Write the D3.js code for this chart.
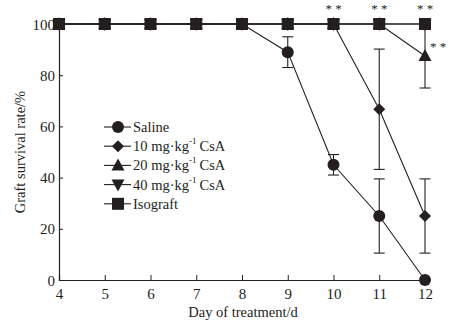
<!DOCTYPE html>
<html><head><meta charset="utf-8">
<script src="https://cdn.jsdelivr.net/npm/d3@7"></script>
<style>body{margin:0;background:#fff}svg{display:block}text{font-family:"Liberation Serif","Times New Roman",serif;fill:#231f20}</style>
</head><body><svg id="c" width="450" height="325"></svg>
<script>
const days = [4,5,6,7,8,9,10,11,12];
const salineVals = [100,100,100,100,100,89,45,25,0];
const salineErr  = [0,0,0,0,0,6,4,14.5,0];
const mg10Vals = [100,100,100,100,100,100,100,66.7,25];
const mg10Err  = [0,0,0,0,0,0,0,23.5,14.5];
const mg20Vals = [100,100,100,100,100,100,100,100,87.5];
const mg20Err  = [0,0,0,0,0,0,0,0,12.5];
const mg40Vals = [100,100,100,100,100,100,100,100,100];
const isoVals  = [100,100,100,100,100,100,100,100,100];
const seriesNames = ["Saline","10 mg·kg","20 mg·kg","40 mg·kg","Isograft"];
const yTicks = [0,20,40,60,80,100];
const sigDays = [10,11,12];

const col = "#231f20";
const svg = d3.select("#c");
const x = d3.scaleLinear().domain([4,12]).range([59,425]);
const y = d3.scaleLinear().domain([0,100]).range([280,24]);

// axes
const xa = svg.append("g").attr("transform","translate(0,280)")
  .call(d3.axisBottom(x).tickValues(days).tickSize(-5).tickPadding(8).tickFormat(d3.format("d")));
const ya = svg.append("g").attr("transform","translate(59,0)")
  .call(d3.axisLeft(y).tickValues(yTicks).tickSize(-4).tickPadding(4));
[xa,ya].forEach(a=>{
  a.select(".domain").attr("stroke",col).attr("stroke-width",1.2);
  a.selectAll(".tick line").attr("stroke",col).attr("stroke-width",1);
  a.selectAll(".tick text").attr("font-size",15).attr("fill",col).style("font-family","Liberation Serif");
});
ya.selectAll(".tick text").attr("dy","0.34em");

svg.append("text").attr("x",243).attr("y",317).attr("text-anchor","middle").attr("font-size",14.5).text("Day of treatment/d");
svg.append("text").attr("transform","translate(25,152) rotate(-90)").attr("text-anchor","middle").attr("font-size",14.5).text("Graft survival rate/%");

const series = [
  {vals:salineVals, err:salineErr, shape:"circle"},
  {vals:mg10Vals, err:mg10Err, shape:"diamond"},
  {vals:mg20Vals, err:mg20Err, shape:"tri"},
  {vals:mg40Vals, err:null, shape:"itri"},
  {vals:isoVals, err:null, shape:"square"}
];

function marker(g, shape, cx, cy){
  if(shape==="circle") g.append("circle").attr("cx",cx).attr("cy",cy).attr("r",6).attr("fill",col);
  else if(shape==="square") g.append("rect").attr("x",cx-6).attr("y",cy-6).attr("width",12).attr("height",12).attr("fill",col);
  else if(shape==="diamond") g.append("path").attr("d",`M${cx},${cy-6}L${cx+6},${cy}L${cx},${cy+6}L${cx-6},${cy}Z`).attr("fill",col);
  else if(shape==="tri") g.append("path").attr("d",`M${cx},${cy-7}L${cx+6.5},${cy+5}L${cx-6.5},${cy+5}Z`).attr("fill",col);
  else if(shape==="itri") g.append("path").attr("d",`M${cx},${cy+7}L${cx+6.5},${cy-5}L${cx-6.5},${cy-5}Z`).attr("fill",col);
}

const line = d3.line().x((d,i)=>x(days[i])).y(d=>y(d));
series.forEach(s=>{
  const g = svg.append("g");
  g.append("path").datum(s.vals).attr("d",line).attr("fill","none").attr("stroke",col).attr("stroke-width",1.1);
  if(s.err){
    s.vals.forEach((v,i)=>{
      const e=s.err[i]; if(!e) return;
      const cx=x(days[i]);
      const top=Math.min(100,v+e), bot=v-e;
      g.append("line").attr("x1",cx).attr("x2",cx).attr("y1",y(top)).attr("y2",y(bot)).attr("stroke",col).attr("stroke-width",1.1);
      [v+e,bot].forEach(t=>{ if(t<=100) g.append("line").attr("x1",cx-5.5).attr("x2",cx+5.5).attr("y1",y(t)).attr("y2",y(t)).attr("stroke",col).attr("stroke-width",1.1);});
    });
  }
  s.vals.forEach((v,i)=>marker(g,s.shape,x(days[i]),y(v)));
});

// significance
const sg = svg.append("g").attr("opacity",0.999);
sigDays.forEach(d=>{
  sg.append("text").attr("x",x(d)).attr("y",13).attr("text-anchor","middle").attr("font-size",13).text("* *");
});
sg.append("text").attr("x",x(12)+5).attr("y",y(mg20Vals[8])-5).attr("font-size",13).text("* *");

// legend
const lg = svg.append("g");
const ly0 = 127, ldy = 19.2;
series.forEach((s,i)=>{
  const cy = ly0 + i*ldy;
  lg.append("line").attr("x1",104).attr("x2",131).attr("y1",cy).attr("y2",cy).attr("stroke",col).attr("stroke-width",1.1);
  marker(lg,s.shape,118,cy);
  const t = lg.append("text").attr("x",133).attr("y",cy+5).attr("font-size",14.5);
  t.append("tspan").text(seriesNames[i]);
  if(i>=1 && i<=3){
    t.append("tspan").attr("dy",-7).attr("font-size",9).text("-1");
    t.append("tspan").attr("dy",7).attr("dx",3).text("CsA");
  }
});
</script></body></html>
